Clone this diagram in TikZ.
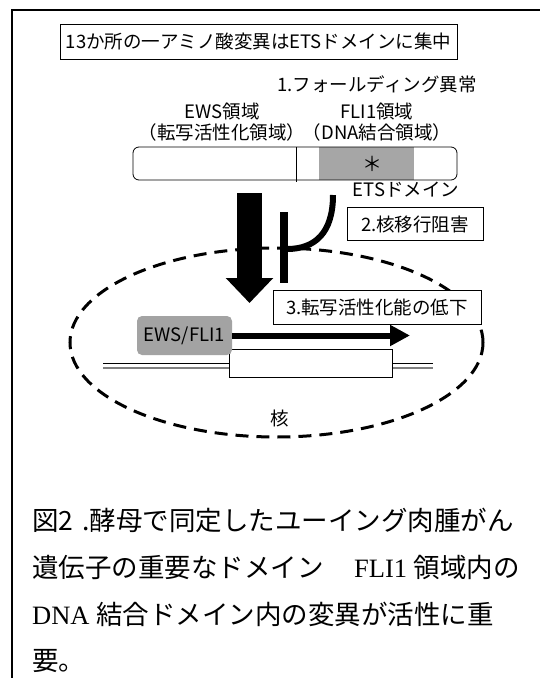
\documentclass[tikz,border=0pt]{standalone}
\usepackage{fontspec}
\setmainfont{Liberation Serif}
\newfontfamily\jp{Noto Sans CJK JP}
\usetikzlibrary{arrows.meta}
\definecolor{domgray}{HTML}{A6A6A6}
\definecolor{efgray}{HTML}{A3A3A3}
\tikzset{
  lbl/.style={font=\jp\fontsize{18.5pt}{21pt}\selectfont, inner sep=0pt},
  box/.style={draw, line width=0.8pt, fill=white, inner sep=0pt},
  captext/.style={font=\fontsize{26.5pt}{30pt}\selectfont, anchor=base west, inner sep=0pt},
  dashell/.style={line width=3pt, dash pattern=on 13pt off 8pt},
}
\begin{document}
\begin{tikzpicture}[x=1pt,y=-1pt]
\useasboundingbox[fill=white] (0,0) rectangle (540,678);
% frame
\draw[line width=1.6pt] (540,10) -- (12,10) -- (12,678);

% title
\node[box, lbl, minimum width=397pt, minimum height=35pt] (title) at (258.5,41.5) {13か所の一アミノ酸変異はETSドメインに集中};
\node[lbl] (fold) at (377,84) {1.フォールディング異常};
\node[lbl, align=center] (ews) at (222,122) {EWS領域\\（転写活性化領域）};
\node[lbl, align=center] (fli) at (377,122) {FLI1領域\\（DNA結合領域）};

% protein bar
\node[fill=domgray, minimum width=95pt, minimum height=33pt, inner sep=0pt] (etsdom) at (366.5,163.5) {};
\node[lbl, font=\jp\fontsize{20pt}{20pt}\selectfont] (ast) at (372,164) {＊};
\node[draw, line width=0.8pt, rounded corners=6pt, minimum width=324pt, minimum height=33pt, inner sep=0pt] (bar) at (295,163.5) {};
\draw[line width=0.8pt] (296,147) -- (296,182);

% nucleus
\draw[dashell] (276.5,342.5) ellipse [x radius=206.5pt, y radius=94.5pt];
\node[lbl] (kaku) at (280,418) {核};

% big arrow
\coordinate (bigS) at (249.5,193);
\coordinate (bigE) at (249.5,303);
\draw[line width=25pt, -{Triangle[length=25pt,width=46pt]}] (bigS) -- (bigE);

% inhibition
\coordinate (tTop) at (283.5,212);
\coordinate (tBot) at (283.5,283);
\coordinate (cS) at (333,195);
\coordinate (cE) at (287,249);
\draw[line width=8pt] (tTop) -- (tBot);
\draw[line width=6pt] (cS) .. controls (333,233) and (315,249) .. (cE);

\node[lbl] (etsl) at (406,190) {ETSドメイン};
\node[box, lbl, minimum width=136pt, minimum height=33pt] (nuc) at (415,224) {2.核移行阻害};
\node[box, lbl, minimum width=208pt, minimum height=34pt] (trans) at (377,307) {3.転写活性化能の低下};

% DNA
\coordinate (dl1) at (103,363);
\coordinate (dr1) at (433,363);
\coordinate (dl2) at (103,368);
\coordinate (dr2) at (433,368);
\draw[line width=1pt] (dl1) -- (dr1);
\draw[line width=1.6pt, gray] (dl2) -- (dr2);
\node[box, minimum width=163pt, minimum height=28pt] (gene) at (310.5,363) {};

% EWS/FLI1
\node[lbl, fill=efgray, rounded corners=5pt, minimum width=95pt, minimum height=39pt] (ef) at (184.5,335.5) {EWS/FLI1};
\coordinate (arrE) at (410,335.5);
\draw[line width=6pt, -{Triangle[length=20pt,width=20pt]}] (ef.east) -- (arrE);

% caption
\node[captext] (c1) at (32,530) {\jp 図2\hspace{9pt}.酵母で同定したユーイング肉腫がん};
\node[captext] (c2) at (32,577) {{\jp 遺伝子の重要なドメイン　}\hspace{4pt}FLI1 {\jp 領域内の}};
\node[captext] (c3) at (32,624) {DNA {\jp 結合ドメイン内の変異が活性に重}};
\node[captext] (c4) at (32,670) {\jp 要。};
\end{tikzpicture}
\end{document}
